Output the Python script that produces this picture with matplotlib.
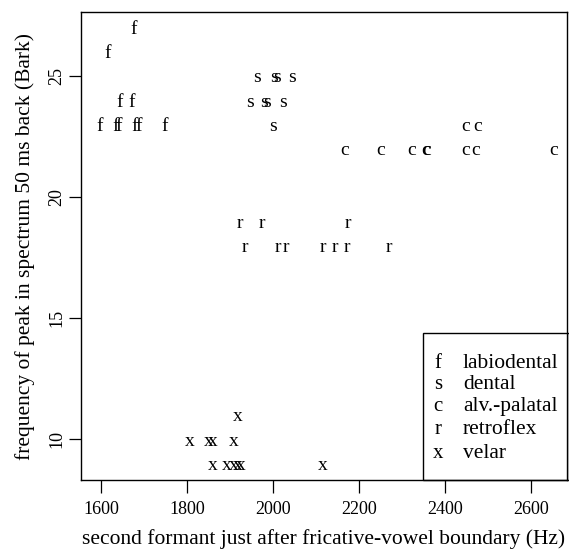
"""
Fricative place of articulation: F2 at vowel onset vs. spectral peak 50 ms back.
Each token is drawn as its class letter, base-R style.
"""
import matplotlib
matplotlib.use("Agg")
import matplotlib.pyplot as plt
from matplotlib.patches import Rectangle

plt.rcParams["font.family"] = ["Liberation Serif", "DejaVu Serif"]

# -- Data (Hz, Bark) -----------------------------------------------------------
f_x = [1675, 1615, 1643, 1671, 1597, 1633, 1641, 1679, 1687, 1747]
f_y = [27, 26, 24, 24, 23, 23, 23, 23, 23, 23]

s_x = [1963, 2001, 2010, 2043, 1947, 1980, 1987, 2024, 1999]
s_y = [25, 25, 25, 25, 24, 24, 24, 24, 23]

c_x = [2167, 2251, 2322, 2354, 2358, 2447, 2472, 2652, 2447, 2475]
c_y = [22, 22, 22, 22, 22, 22, 22, 22, 23, 23]

r_x = [1923, 1974, 2174, 1935, 2010, 2030, 2116, 2144, 2171, 2270]
r_y = [19, 19, 19, 18, 18, 18, 18, 18, 18, 18]

x_x = [1918, 1805, 1850, 1859, 1908, 1860, 1891, 1908, 1917, 1925, 2116]
x_y = [11, 10, 10, 10, 10, 9, 9, 9, 9, 9, 9]

labels  = ["f", "s", "c", "r", "x"]
names   = ["labiodental", "dental", "alv.-palatal", "retroflex", "velar"]
xs      = [f_x, s_x, c_x, r_x, x_x]
ys      = [f_y, s_y, c_y, r_y, x_y]
x_ticks = [1600, 1800, 2000, 2200, 2400, 2600]
y_ticks = [10, 15, 20, 25]

# -- Plot ----------------------------------------------------------------------
fig = plt.figure(figsize=(5.69, 5.5), dpi=100)
ax = fig.add_axes([81 / 569, 70 / 550, 486 / 569, 468 / 550])

for lab, px, py in zip(labels, xs, ys):
    for x, y in zip(px, py):
        ax.text(x, y, lab, ha="center", va="center_baseline", fontsize=14, color="black")

ax.set_xlim(1553, 2684)
ax.set_ylim(8.31, 27.64)
ax.set_xticks(x_ticks)
ax.set_yticks(y_ticks)
ax.set_yticklabels([str(v) for v in y_ticks], rotation=90, va="center")
ax.tick_params(direction="out", length=9, width=0.9, labelsize=13)
ax.tick_params(axis="x", pad=6)
ax.tick_params(axis="y", pad=2)
for sp in ax.spines.values():
    sp.set_linewidth(1.0)

ax.set_xlabel("second formant just after fricative-vowel boundary (Hz)", fontsize=15.5, labelpad=8)
ax.set_ylabel("frequency of peak in spectrum 50 ms back (Bark)", fontsize=15.5, labelpad=10)

# legend box, bottom right, drawn the way R's legend() looks
ax.add_patch(Rectangle((0.704, 0.0), 0.30, 0.314, transform=ax.transAxes,
                       fill=False, edgecolor="black", linewidth=1.0, clip_on=False))
rows = [0.249, 0.203, 0.156, 0.107, 0.057]
for lab, name, yy in zip(labels, names, rows):
    ax.text(0.735, yy, lab, transform=ax.transAxes, ha="center", va="center", fontsize=15)
    ax.text(0.786, yy, name, transform=ax.transAxes, ha="left", va="center", fontsize=15.5)

fig.savefig("out.png", dpi=100)
